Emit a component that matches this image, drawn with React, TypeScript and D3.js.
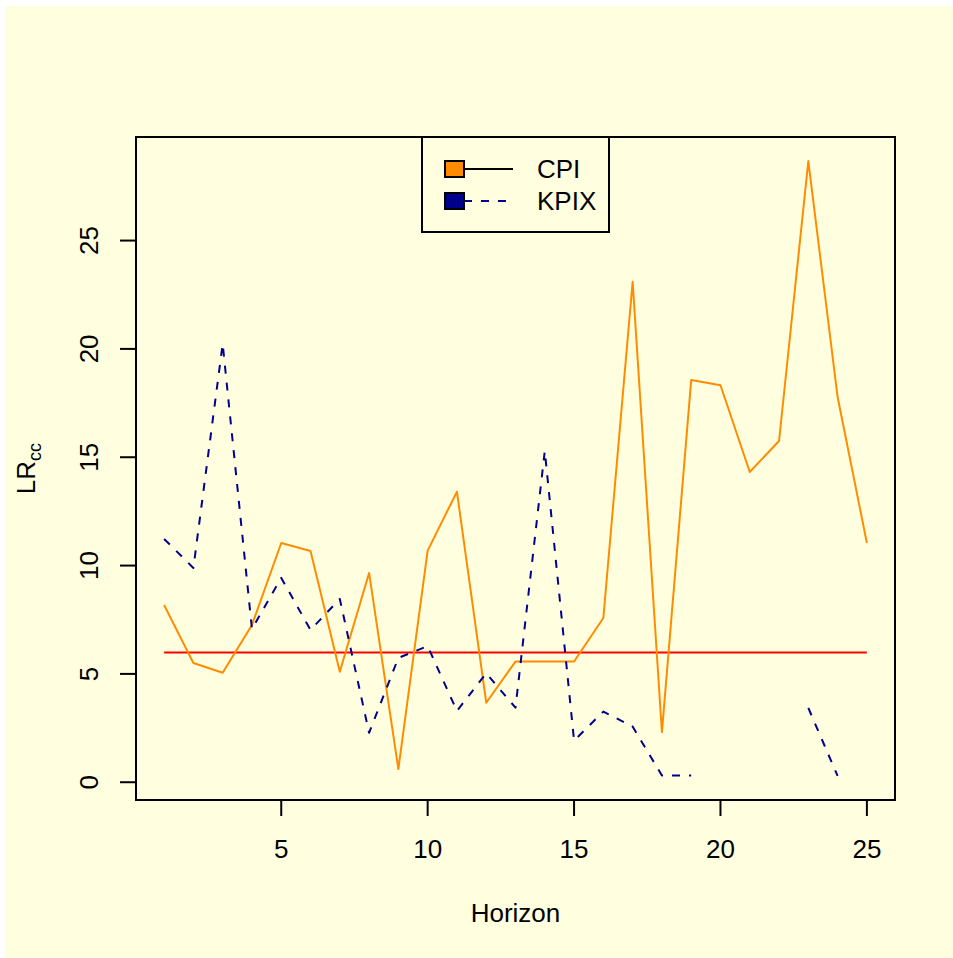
import React from "react";
import * as d3 from "d3";

// horizons 1..25
const horizons = d3.range(1, 26);
// LR_cc statistics
const cpi = [8.18, 5.5, 5.05, 7.26, 11.04, 10.67, 5.1, 9.66, 0.61, 10.69, 13.41, 3.67, 5.57, 5.57, 5.57, 7.58, 23.1, 2.31, 18.56, 18.32, 14.32, 15.75, 28.67, 17.78, 11.04];
const kpix = [11.23, 9.89, 20.23, 7.07, 9.43, 7.03, 8.46, 2.28, 5.74, 6.28, 3.29, 5.03, 3.44, 15.29, 1.92, 3.26, 2.57, 0.31, 0.31, null, null, null, 3.43, 0.29, null];
const critical = 5.991; // chi-square(2) 95%
const xTicks = [5, 10, 15, 20, 25];
const yTicks = [0, 5, 10, 15, 20, 25];
const seriesNames = ["CPI", "KPIX"];
const seriesColors = ["#FF8C00", "#00008B"];

const W = 953;
const H = 958;
const box = { left: 136, right: 895, top: 137, bottom: 800 };
const font = "'Liberation Sans', Arial, Helvetica, sans-serif";
const fs = 26;

export default function App() {
  const x = d3.scaleLinear().domain([0.04, 25.96]).range([box.left, box.right]);
  const y = d3.scaleLinear().domain([-0.82, 29.78]).range([box.bottom, box.top]);

  const line = d3
    .line<number | null>()
    .defined((d) => d !== null)
    .x((_, i) => x(horizons[i]))
    .y((d) => y(d as number));

  const series = [cpi, kpix];
  const dashes = [undefined, "8,9"];

  return (
    <svg
      width={W}
      height={H}
      style={{ position: "absolute", left: 0, top: 0 }}
      fontFamily={font}
    >
      <rect x={0} y={0} width={W} height={H} fill="#ffffff" />
      <rect x={5} y={6} width={W - 5} height={H - 6} fill="#FFFFE0" />

      {/* threshold line */}
      <line
        x1={x(horizons[0])}
        x2={x(horizons[horizons.length - 1])}
        y1={y(critical)}
        y2={y(critical)}
        stroke="#FF0000"
        strokeWidth={2}
      />

      {series.map((s, k) => (
        <path
          key={k}
          d={line(s) || ""}
          fill="none"
          stroke={seriesColors[k]}
          strokeWidth={2}
          strokeDasharray={dashes[k]}
          strokeLinejoin="round"
        />
      ))}

      {/* plot box */}
      <rect
        x={box.left}
        y={box.top}
        width={box.right - box.left}
        height={box.bottom - box.top}
        fill="none"
        stroke="#000"
        strokeWidth={2}
      />

      {/* x axis */}
      {xTicks.map((t) => (
        <g key={t}>
          <line x1={x(t)} x2={x(t)} y1={box.bottom} y2={box.bottom + 16} stroke="#000" strokeWidth={2} />
          <text x={x(t)} y={858} fontSize={fs} textAnchor="middle">
            {t}
          </text>
        </g>
      ))}

      {/* y axis */}
      {yTicks.map((t) => (
        <g key={t}>
          <line x1={box.left} x2={box.left - 16} y1={y(t)} y2={y(t)} stroke="#000" strokeWidth={2} />
          <text
            transform={`translate(98,${y(t)}) rotate(-90)`}
            fontSize={fs}
            textAnchor="middle"
          >
            {t}
          </text>
        </g>
      ))}

      <text x={(box.left + box.right) / 2} y={922} fontSize={fs} textAnchor="middle">
        Horizon
      </text>
      <text
        transform={`translate(35,${(box.top + box.bottom) / 2}) rotate(-90)`}
        fontSize={fs}
        textAnchor="middle"
      >
        LR
        <tspan fontSize={18} dy={6}>
          cc
        </tspan>
      </text>

      {/* legend */}
      <rect x={422} y={box.top} width={187} height={95} fill="#FFFFE0" stroke="#000" strokeWidth={2} />
      {seriesNames.map((n, k) => {
        const cy = 169 + k * 32;
        return (
          <g key={n}>
            <line
              x1={464}
              x2={513}
              y1={cy}
              y2={cy}
              stroke={k === 0 ? "#000" : seriesColors[1]}
              strokeWidth={2}
              strokeDasharray={dashes[k]}
            />
            <rect x={445} y={cy - 8} width={19} height={16} fill={seriesColors[k]} stroke="#000" strokeWidth={2} />
            <text x={537} y={cy + 9} fontSize={fs}>
              {n}
            </text>
          </g>
        );
      })}
    </svg>
  );
}
